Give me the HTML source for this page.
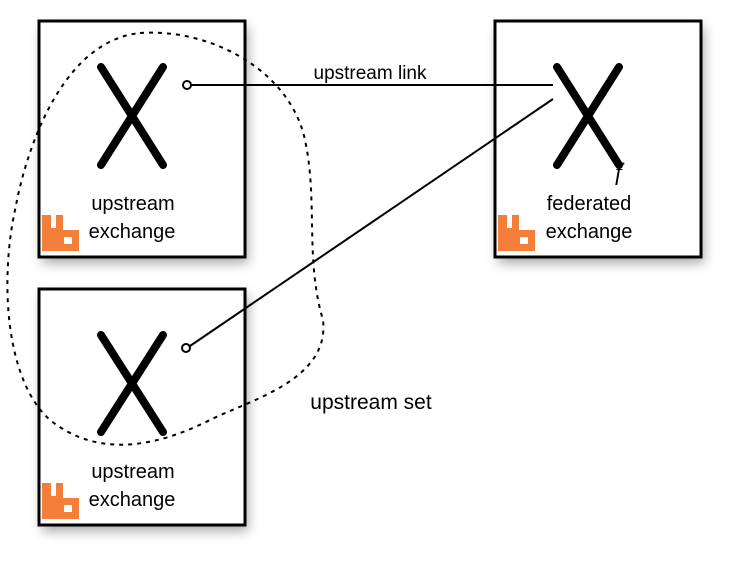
<!DOCTYPE html>
<html><head><style>
body{margin:0;background:#fff;width:730px;height:566px;overflow:hidden;font-family:"Liberation Sans",sans-serif}
</style></head><body>
<svg width="730" height="566" viewBox="0 0 730 566" xmlns="http://www.w3.org/2000/svg">
<defs>
<filter id="sh" x="-20%" y="-20%" width="140%" height="140%"><feGaussianBlur stdDeviation="6"/></filter>
<g id="logo"><path d="M42 215h9v13h5v-13h7v15h16v21h-37z" fill="#f47f3b"/><rect x="64" y="237" width="8" height="7" fill="#fff"/></g>
</defs>
<g fill="#000" opacity="0.35" filter="url(#sh)">
<rect x="42" y="27" width="206" height="236"/>
<rect x="498" y="27" width="206" height="236"/>
<rect x="42" y="295" width="206" height="236"/>
</g>
<g fill="#fff" stroke="#000" stroke-width="3">
<rect x="39" y="21" width="206" height="236"/>
<rect x="495" y="21" width="206" height="236"/>
<rect x="39" y="289" width="206" height="236"/>
</g>
<g stroke="#000" stroke-width="8" stroke-linecap="round">
<path d="M101 67L163 165M163 67L101 165"/>
<path d="M557 67L619 165M619 67L557 165"/>
<path d="M101 335L163 432M163 335L101 432"/>
</g>
<g stroke="#000" stroke-width="2" fill="none">
<path d="M191 85H553"/>
<path d="M553 99L190 346"/>
<path stroke-dasharray="4,5" d="M140 33C210 28 290 70 305 140C318 200 305 260 323 320C330 380 250 400 210 420C160 445 100 460 50 420C5 380 0 280 15 210C30 130 70 40 140 33Z"/>
</g>
<circle cx="187" cy="85" r="4" fill="#fff" stroke="#000" stroke-width="2"/>
<circle cx="186" cy="348" r="4" fill="#fff" stroke="#000" stroke-width="2"/>
<use href="#logo"/>
<use href="#logo" x="456"/>
<use href="#logo" y="268"/>
<g font-size="20" fill="#000" text-anchor="middle">
<text x="133" y="210">upstream</text><text x="132" y="238">exchange</text>
<text x="589" y="210">federated</text><text x="589" y="238">exchange</text>
<text x="133" y="478">upstream</text><text x="132" y="506">exchange</text>
<text x="370" y="79" font-size="19">upstream link</text>
<text x="371" y="409" font-size="21">upstream set</text>
</g>
<text x="615" y="180" font-family="Liberation Serif,serif" font-style="italic" font-size="24">f</text>
</svg>
</body></html>
